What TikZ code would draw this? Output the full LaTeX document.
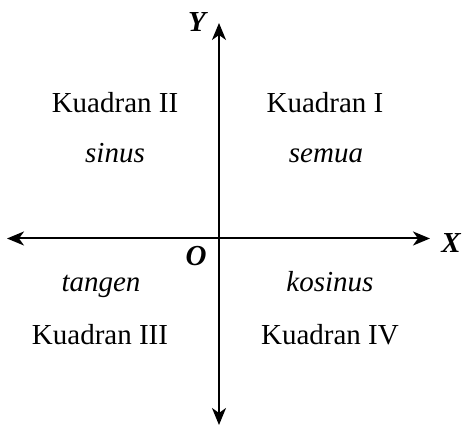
\documentclass[tikz,border=0pt]{standalone}
\usepackage{fontspec}
\setmainfont{Liberation Serif}
\usetikzlibrary{arrows.meta}
\begin{document}
\begin{tikzpicture}[x=0.5pt,y=-0.5pt,
  axis/.style={line width=1pt,-{Stealth[length=8.5pt,width=7pt,inset=2.5pt]}},
  lbl/.style={font=\fontsize{14.5}{17}\selectfont,anchor=base,inner sep=0pt},
  fn/.style={font=\fontsize{14.5}{17}\selectfont\itshape,anchor=base,inner sep=0pt},
  axl/.style={font=\fontsize{14.5}{17}\selectfont\bfseries\itshape,inner sep=0pt}]
\useasboundingbox (0,0) rectangle (463,426);
\coordinate (c) at (219,238.5);
\coordinate (l) at (7,238.5);
\coordinate (r) at (430,238.5);
\coordinate (t) at (219,23);
\coordinate (b) at (219,425);
\draw[axis] (c) -- (l);
\draw[axis] (c) -- (r);
\draw[axis] (c) -- (t);
\draw[axis] (c) -- (b);
\node[axl] (Y) at (197,22) {Y};
\node[axl] (X) at (451,243) {X};
\node[axl] (O) at (196,256) {O};
\node[lbl] (k2) at (115,113) {Kuadran II};
\node[fn] (s2) at (115,163) {sinus};
\node[lbl] (k1) at (325,113) {Kuadran I};
\node[fn] (s1) at (326,163) {semua};
\node[fn] (s3) at (101,292) {tangen};
\node[lbl] (k3) at (100,345) {Kuadran III};
\node[fn] (s4) at (330,292) {kosinus};
\node[lbl] (k4) at (330,345) {Kuadran IV};
\end{tikzpicture}
\end{document}
